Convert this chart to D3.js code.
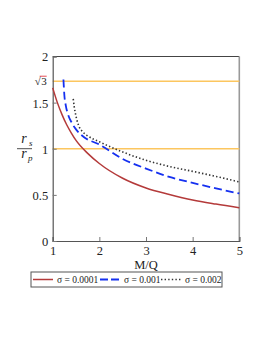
<!DOCTYPE html>
<html>
<head>
<meta charset="utf-8">
<script src="https://cdn.jsdelivr.net/npm/d3@7"></script>
<style>
  body { margin: 0; background: #fff; }
  text { font-family: "Liberation Serif", "DejaVu Serif", serif; fill: #222; }
</style>
</head>
<body>
<script>
var svgWidth = 262;
var svgHeight = 339;

var margin = { top: 56.5, right: 22.7, bottom: 98, left: 52.7 };
var width = svgWidth - margin.left - margin.right;
var height = svgHeight - margin.top - margin.bottom;

// data
var xTicks = [1, 2, 3, 4, 5];
var yTicks = [0, 0.5, 1, 1.5, 2];
var refLines = [Math.sqrt(3), 1];

var redX = [1, 1.1, 1.2, 1.3, 1.4, 1.5, 1.75, 2, 2.5, 3, 3.5, 4, 4.5, 5];
var redY = [1.66, 1.5, 1.37, 1.26, 1.17, 1.09, 0.95, 0.84, 0.68, 0.575, 0.505, 0.445, 0.4, 0.36];

var blueX = [1.23, 1.25, 1.28, 1.33, 1.4, 1.5, 1.66, 2, 2.5, 3, 3.5, 4, 4.5, 5];
var blueY = [1.75, 1.58, 1.47, 1.37, 1.29, 1.21, 1.13, 1.045, 0.89, 0.785, 0.695, 0.63, 0.57, 0.515];

var dotX = [1.44, 1.46, 1.48, 1.52, 1.55, 1.65, 1.75, 2, 2.5, 3, 3.5, 4, 4.5, 5];
var dotY = [1.54, 1.46, 1.4, 1.31, 1.26, 1.18, 1.14, 1.075, 0.965, 0.875, 0.808, 0.755, 0.7, 0.64];

var seriesNames = ["σ = 0.0001", "σ = 0.001", "σ = 0.002"];

var series = [
  { name: seriesNames[0], xs: redX, ys: redY, color: "#b43a3a", width: 1.5, dash: null },
  { name: seriesNames[1], xs: blueX, ys: blueY, color: "#1530f0", width: 1.8, dash: "8,4" },
  { name: seriesNames[2], xs: dotX, ys: dotY, color: "#333", width: 1.6, dash: "1.4,2.2" }
];

var svg = d3.select("body")
  .append("svg")
  .attr("width", svgWidth)
  .attr("height", svgHeight);

var plot = svg.append("g")
  .attr("transform", `translate(${margin.left}, ${margin.top})`);

var xScale = d3.scaleLinear().domain([1, 5]).range([0, width]);
var yScale = d3.scaleLinear().domain([0, 2]).range([height, 0]);

// frame: top and right sides
plot.append("line")
  .attr("x1", 0).attr("x2", width).attr("y1", 0).attr("y2", 0)
  .attr("stroke", "#444").attr("stroke-width", 1.2);
plot.append("line")
  .attr("x1", width).attr("x2", width).attr("y1", 0).attr("y2", height)
  .attr("stroke", "#999").attr("stroke-width", 1.6);

// reference lines
plot.selectAll(".ref")
  .data(refLines)
  .enter()
  .append("line")
  .attr("class", "ref")
  .attr("x1", 0).attr("x2", width)
  .attr("y1", d => yScale(d)).attr("y2", d => yScale(d))
  .attr("stroke", "#fcc65f").attr("stroke-width", 1.6);

// axes with inner ticks
var xAxis = d3.axisBottom(xScale).tickValues(xTicks).tickSize(-4).tickPadding(5)
  .tickFormat(d3.format("d"));
var yAxis = d3.axisLeft(yScale).tickValues(yTicks).tickSize(-4).tickPadding(4.5)
  .tickFormat(d => d);

var gx = plot.append("g")
  .attr("transform", `translate(0, ${height})`)
  .call(xAxis);
var gy = plot.append("g").call(yAxis);

[gx, gy].forEach(function(g) {
  g.select(".domain").attr("stroke", "#555").attr("stroke-width", 1.2);
  g.selectAll(".tick line").attr("stroke", "#777");
  g.selectAll(".tick text").style("font-size", "12.5px").attr("fill", "#222")
    .style("font-family", "'Liberation Serif', serif");
});
gy.selectAll(".tick text").attr("dy", "0.35em");

// sqrt(3) label
var s3 = plot.append("g")
  .attr("transform", `translate(-12, ${yScale(Math.sqrt(3))})`);
s3.append("text")
  .attr("x", 0).attr("y", 4)
  .attr("text-anchor", "end")
  .style("font-size", "11px")
  .attr("fill", "#e0202a")
  .text("√");
s3.append("line")
  .attr("x1", -1).attr("x2", 6).attr("y1", -5).attr("y2", -5)
  .attr("stroke", "#e0202a").attr("stroke-width", 0.8);
s3.append("text")
  .attr("x", 0.5).attr("y", 4)
  .style("font-size", "11px")
  .attr("fill", "#e0202a")
  .text("3");

// curves
var line = d3.line()
  .x(d => xScale(d[0]))
  .y(d => yScale(d[1]))
  .curve(d3.curveMonotoneX);

plot.selectAll(".curve")
  .data(series)
  .enter()
  .append("path")
  .attr("class", "curve")
  .attr("d", d => line(d.xs.map((x, i) => [x, d.ys[i]])))
  .attr("fill", "none")
  .attr("stroke", d => d.color)
  .attr("stroke-width", d => d.width)
  .attr("stroke-dasharray", d => d.dash);

// axis titles
plot.append("text")
  .attr("x", xScale(3))
  .attr("y", height + 28)
  .attr("text-anchor", "middle")
  .style("font-size", "12.5px")
  .text("M/Q");

var yl = svg.append("g").attr("transform", "translate(24, 148.7)");
yl.append("text")
  .attr("x", 0).attr("y", -6)
  .attr("text-anchor", "middle")
  .style("font-size", "14px").style("font-style", "italic")
  .text("r");
yl.append("text")
  .attr("x", 5).attr("y", -3)
  .style("font-size", "9px").style("font-style", "italic")
  .text("s");
yl.append("line")
  .attr("x1", -7).attr("x2", 8).attr("y1", 0).attr("y2", 0)
  .attr("stroke", "#222").attr("stroke-width", 0.8);
yl.append("text")
  .attr("x", 0).attr("y", 9)
  .attr("text-anchor", "middle")
  .style("font-size", "14px").style("font-style", "italic")
  .text("r");
yl.append("text")
  .attr("x", 4).attr("y", 12)
  .style("font-size", "9px").style("font-style", "italic")
  .text("p");

// legend
var legend = svg.append("g").attr("transform", "translate(31, 272)");
legend.append("rect")
  .attr("x", 0).attr("y", 0).attr("width", 191).attr("height", 15)
  .attr("fill", "#fff").attr("stroke", "#555").attr("stroke-width", 1);

var legendX = [2, 69, 130];
var items = legend.selectAll(".item")
  .data(series)
  .enter()
  .append("g")
  .attr("transform", (d, i) => `translate(${legendX[i]}, 7.5)`);
items.append("line")
  .attr("x1", 0).attr("x2", 20).attr("y1", 0).attr("y2", 0)
  .attr("stroke", d => d.color)
  .attr("stroke-width", d => d.width)
  .attr("stroke-dasharray", (d, i) => i === 1 ? "8,3" : d.dash);
items.append("text")
  .attr("x", 24)
  .attr("y", 3.2)
  .style("font-size", "9.5px")
  .text(d => d.name);
</script>
</body>
</html>
